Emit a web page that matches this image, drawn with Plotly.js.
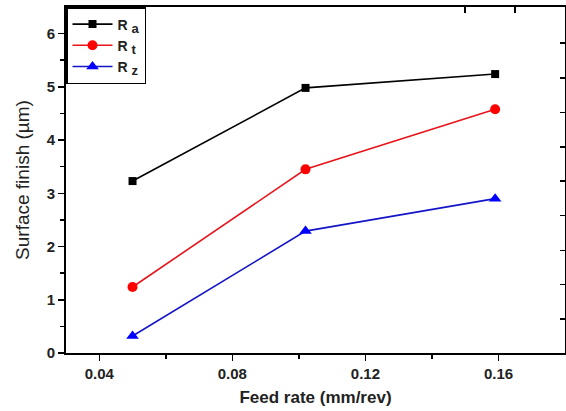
<!DOCTYPE html>
<html><head><meta charset="utf-8">
<script src="https://cdn.plot.ly/plotly-3.0.1.min.js"></script>
<style>html,body{margin:0;padding:0;background:#fff}#c{width:566px;height:411px}</style>
</head><body><div id="c"></div>
<script>
const feedRate = [0.05, 0.102, 0.159];
const Ra = [3.23, 4.98, 5.24];
const Rt = [1.24, 3.45, 4.58];
const Rz = [0.32, 2.29, 2.90];
const names = ['R <sub><span style="font-size:13px">a</span></sub>', 'R <sub><span style="font-size:13px">t</span></sub>', 'R <sub><span style="font-size:13px">z</span></sub>'];
const xTicks = [0.04, 0.08, 0.12, 0.16];
const xTickText = ['0.04', '0.08', '0.12', '0.16'];
const yTicks = [0, 1, 2, 3, 4, 5, 6];

const FONT = 'Liberation Sans, Arial, sans-serif';
const traces = [
  {x: feedRate, y: Ra, name: names[0], mode: 'lines+markers', line: {color: '#000000', width: 1.6}, marker: {symbol: 'square', size: 8, color: '#000000'}},
  {x: feedRate, y: Rt, name: names[1], mode: 'lines+markers', line: {color: '#e8141b', width: 1.6}, marker: {symbol: 'circle', size: 10, color: '#ff0000'}},
  {x: feedRate, y: Rz, name: names[2], mode: 'lines+markers', line: {color: '#1515c8', width: 1.6}, marker: {symbol: 'triangle-up', size: 11, color: '#0000ff'}}
];

const layout = {
  width: 566, height: 411,
  margin: {l: 66, r: 1, t: 7, b: 58},
  paper_bgcolor: '#fff', plot_bgcolor: '#fff',
  showlegend: true,
  legend: {x: 0, y: 1, xanchor: 'left', yanchor: 'top', bgcolor: '#fff', bordercolor: '#000', borderwidth: 1.5,
           font: {family: FONT, size: 14, color: '#222', weight: 'bold'}, itemwidth: 40, tracegroupgap: 0},
  xaxis: {
    range: [0.03, 0.18], tickvals: xTicks, ticktext: xTickText,
    ticks: 'outside', ticklen: 6, tickwidth: 1.5, tickcolor: '#000',
    minor: {tickvals: [0.06, 0.10, 0.14], ticks: 'outside', ticklen: 4, tickwidth: 1.5, tickcolor: '#000'},
    showline: true, linecolor: '#000', linewidth: 2, showgrid: false, zeroline: false,
    tickfont: {family: FONT, size: 15, color: '#222', weight: 'bold'},
    title: {text: 'Feed rate (mm/rev)', font: {family: FONT, size: 17, color: '#222', weight: 'bold'}, standoff: 10}
  },
  yaxis: {
    range: [0, 6.5], tickvals: yTicks,
    ticks: 'outside', ticklen: 6, tickwidth: 1.5, tickcolor: '#000',
    minor: {tickvals: [0.5, 1.5, 2.5, 3.5, 4.5, 5.5], ticks: 'outside', ticklen: 4, tickwidth: 1.5, tickcolor: '#000'},
    showline: true, linecolor: '#000', linewidth: 2, showgrid: false, zeroline: false,
    tickfont: {family: FONT, size: 15, color: '#222', weight: 'bold'},
    title: {text: 'Surface finish (µm)', font: {family: FONT, size: 19, color: '#222'}, standoff: 12}
  },
  xaxis2: {overlaying: 'x', side: 'top', range: [0.03, 0.18], tickvals: [0.15, 0.165], showticklabels: false,
    ticks: 'inside', ticklen: 6, tickwidth: 1.5, tickcolor: '#000', showline: true, linecolor: '#000', linewidth: 2, showgrid: false, zeroline: false},
  yaxis2: {overlaying: 'y', side: 'right', range: [0, 6.5], tickvals: [0.64, 1.29, 1.93, 2.58, 3.23, 3.87, 4.52, 5.17, 5.82], showticklabels: false,
    ticks: 'inside', ticklen: 5, tickwidth: 1.5, tickcolor: '#000', showline: true, linecolor: '#000', linewidth: 2, showgrid: false, zeroline: false}
};
traces.push({x: [0.1], y: [1], xaxis: 'x2', yaxis: 'y2', showlegend: false, hoverinfo: 'skip', mode: 'markers', marker: {opacity: 0}});
Plotly.newPlot('c', traces, layout, {staticPlot: true});
</script></body></html>
